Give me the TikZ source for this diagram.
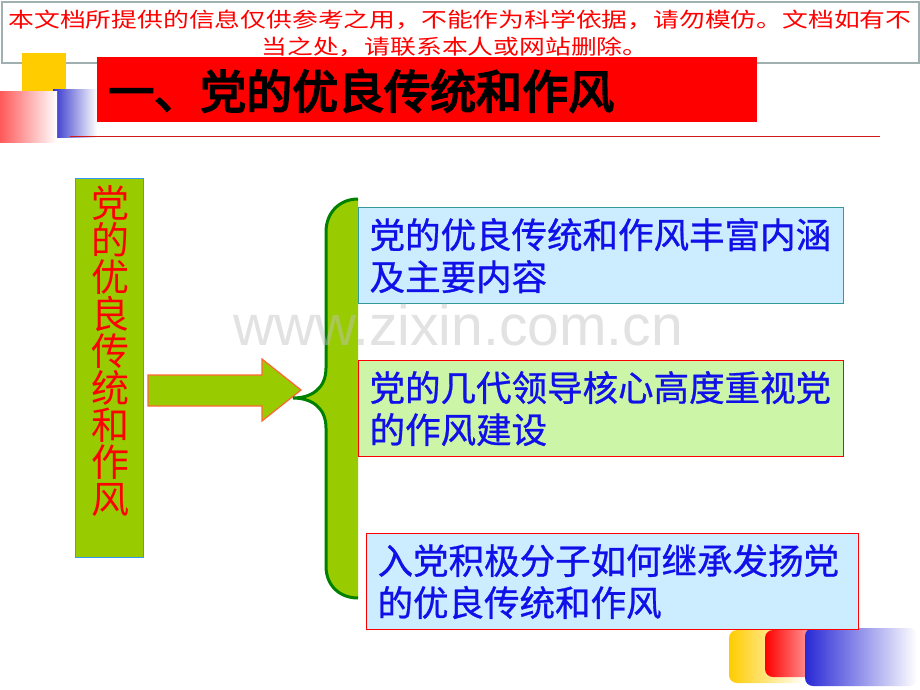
\documentclass[tikz,border=0pt]{standalone}
\usepackage{fontspec}
\usepackage{graphicx}
\newfontfamily\cjk{Noto Sans CJK SC}
\newfontfamily\cjkmed{Noto Sans CJK SC}[FakeBold=0.8]
\newfontfamily\cjktitle{Noto Sans CJK SC}[FakeBold=4]
\newfontfamily\wmfont{Liberation Sans}
\definecolor{gr}{HTML}{99CC00}
\definecolor{lb}{HTML}{CCECFF}
\definecolor{lg}{HTML}{CCF5A8}
\definecolor{tealb}{HTML}{339999}
\definecolor{txtblue}{HTML}{1010E8}
\definecolor{dg}{HTML}{008000}
\definecolor{bord}{HTML}{A0B0B0}
\definecolor{yel}{HTML}{FFCC00}
\definecolor{dblue}{HTML}{3333CC}
\definecolor{arrowline}{HTML}{FF6633}
\definecolor{leftline}{HTML}{3399FF}
\tikzset{
  banner/.style={draw=bord, line width=2pt, fill=white, inner sep=0pt},
  bannertext/.style={text=red, inner sep=0pt, font=\cjk\fontsize{25.8}{30}\selectfont},
  titlebar/.style={fill=red, inner sep=0pt},
  titletext/.style={text=black, inner sep=0pt, font=\cjktitle\fontsize{46}{50}\selectfont},
  leftbox/.style={fill=gr, draw=leftline, line width=1.2pt, inner sep=0pt},
  vtext/.style={text=red, align=center, inner sep=0pt, font=\cjk\fontsize{38}{37}\selectfont},
  infobox/.style={line width=1.2pt, inner xsep=11pt, inner ysep=0pt, align=left, text=txtblue,
    minimum height=96pt, font=\cjkmed\fontsize{35.5}{42}\selectfont},
  arrowshape/.style={fill=gr, draw=arrowline, line width=1.2pt},
  watermark/.style={text=gray!50, opacity=0.45, inner sep=0pt, font=\wmfont\fontsize{57}{60}\selectfont},
}
\begin{document}
\begin{tikzpicture}[x=1pt,y=-1pt]
\useasboundingbox (0,0) rectangle (920,690);
\fill[white] (0,0) rectangle (920,690);

% warning banner
\node[banner, anchor=north west, minimum width=917pt, minimum height=61pt] (banner) at (1,1) {};
\node[bannertext] (warn1) at (460,20) {\scalebox{1}[0.8]{本文档所提供的信息仅供参考之用，不能作为科学依据，请勿模仿。文档如有不}};
\node[bannertext] (warn2) at (455,47) {\scalebox{1}[0.8]{当之处，请联系本人或网站删除。}};

% top-left decoration
\fill[yel] (22,53) rectangle (66,92);
\shade[left color=dblue, right color=white] (53,90) rectangle (97,137);
\shade[left color=red!65, right color=white] (0,92) rectangle (57,142);

% title bar
\node[titlebar, anchor=north west, minimum width=660pt, minimum height=65pt] (titlebar) at (97,57) {};
\node[titletext, anchor=west] (title) at (108,91) {一、党的优良传统和作风};
\draw[red!80!black!90, line width=0.8pt] (70,136) -- (880,136);

% left box
\node[leftbox, anchor=north west, minimum width=68pt, minimum height=379pt] (src) at (75,178) {};
\node[vtext] (srctext) at (110,351) {党\\的\\优\\良\\传\\统\\和\\作\\风};

% block arrow
\coordinate (atail) at (148,390);
\coordinate (atip) at (301,390);
\draw[arrowshape] (148,375) -- (262,375) -- (262,359) -- (atip) -- (262,421) -- (262,406) -- (148,406) -- cycle;

% brace
\fill[gr] (358,199) .. controls (340,199) and (326,212) .. (326,232) -- (326,368)
  .. controls (326,388) and (312,398) .. (293,398)
  .. controls (312,398) and (326,408) .. (326,428) -- (326,566)
  .. controls (326,586) and (340,598) .. (358,598) -- cycle;
\draw[dg, line width=3pt] (358,199) .. controls (340,199) and (326,212) .. (326,232) -- (326,368)
  .. controls (326,388) and (312,398) .. (293,398)
  .. controls (312,398) and (326,408) .. (326,428) -- (326,566)
  .. controls (326,586) and (340,598) .. (358,598);

% bottom-right decoration
\shade[left color=yel, right color=white, rounded corners=8pt] (729,630) rectangle (805,683);
\shade[left color=red, right color=white, rounded corners=8pt] (765,630) rectangle (840,677);
\shade[left color=dblue!80!blue, right color=white, rounded corners=8pt] (805,628) rectangle (917,686);

% content boxes
\node[infobox, fill=lb, draw=tealb, anchor=north west, text width=463pt] (b1) at (358,207) {党的优良传统和作风丰富内涵\\及主要内容};
\node[infobox, fill=lg, draw=red, anchor=north west, text width=463pt] (b2) at (358,360) {党的几代领导核心高度重视党\\的作风建设};
\node[infobox, fill=lb, draw=red, anchor=north west, text width=470pt] (b3) at (366,533) {入党积极分子如何继承发扬党\\的优良传统和作风};

% watermark
\node[watermark, anchor=base] (wm) at (458,345) {www.zixin.com.cn};
\end{tikzpicture}
\end{document}
